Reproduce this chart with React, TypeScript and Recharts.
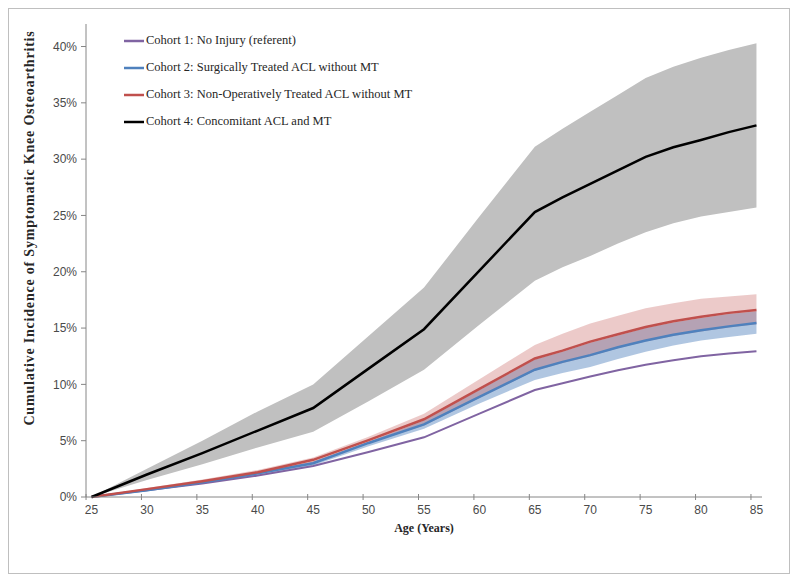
import { ComposedChart, Line, Area, XAxis, YAxis, Legend, Label } from "recharts";

const ages = [25, 30, 35, 40, 45, 50, 55, 60, 65, 67.5, 70, 72.5, 75, 77.5, 80, 82.5, 85];
const xTicks = [25, 30, 35, 40, 45, 50, 55, 60, 65, 70, 75, 80, 85];
const yTicks = [0, 5, 10, 15, 20, 25, 30, 35, 40];

// cumulative incidence, %
const cohort1 = [0, 0.6, 1.2, 1.9, 2.75, 4.0, 5.3, 7.4, 9.5, 10.1, 10.7, 11.25, 11.75, 12.15, 12.5, 12.75, 12.95];
const cohort2 = [0, 0.6, 1.3, 2.1, 3.0, 4.8, 6.45, 8.9, 11.3, 12.0, 12.6, 13.3, 13.9, 14.4, 14.8, 15.15, 15.45];
const cohort2Lo = [0, 0.55, 1.2, 1.95, 2.8, 4.5, 6.05, 8.3, 10.4, 11.0, 11.55, 12.25, 12.9, 13.45, 13.9, 14.2, 14.5];
const cohort2Hi = [0, 0.65, 1.35, 2.15, 3.15, 4.9, 6.8, 9.5, 12.2, 12.9, 13.7, 14.35, 15.0, 15.5, 15.9, 16.25, 16.5];
const cohort3 = [0, 0.7, 1.4, 2.2, 3.3, 5.05, 6.9, 9.6, 12.3, 13.0, 13.8, 14.45, 15.1, 15.6, 16.0, 16.35, 16.6];
const cohort3Lo = [0, 0.6, 1.3, 2.05, 3.0, 4.75, 6.35, 8.8, 11.2, 11.9, 12.5, 13.2, 13.8, 14.3, 14.7, 15.05, 15.35];
const cohort3Hi = [0, 0.8, 1.55, 2.4, 3.5, 5.35, 7.4, 10.45, 13.5, 14.5, 15.4, 16.1, 16.75, 17.2, 17.6, 17.8, 18.0];
const cohort4 = [0, 2.0, 3.9, 5.9, 7.9, 11.4, 14.9, 20.1, 25.3, 26.6, 27.8, 29.0, 30.2, 31.05, 31.7, 32.4, 33.0];
const cohort4Lo = [0, 1.5, 2.9, 4.4, 5.8, 8.5, 11.3, 15.3, 19.2, 20.4, 21.4, 22.5, 23.5, 24.3, 24.9, 25.3, 25.7];
const cohort4Hi = [0, 2.5, 5.0, 7.6, 10.0, 14.3, 18.6, 24.9, 31.1, 32.7, 34.2, 35.7, 37.2, 38.2, 39.0, 39.7, 40.3];

const cohorts = [
  { name: "Cohort 1: No Injury (referent)", color: "#8064a2" },
  { name: "Cohort 2: Surgically Treated ACL without MT", color: "#4f81bd" },
  { name: "Cohort 3: Non-Operatively Treated ACL without MT", color: "#c0504d" },
  { name: "Cohort 4: Concomitant ACL and MT", color: "#000000" },
];

const data = ages.map((age, i) => ({
  age,
  c1: cohort1[i],
  c2: cohort2[i],
  c2band: [cohort2Lo[i], cohort2Hi[i]],
  c3: cohort3[i],
  c3band: [cohort3Lo[i], cohort3Hi[i]],
  c4: cohort4[i],
  c4band: [cohort4Lo[i], cohort4Hi[i]],
}));

const axisColor = "#868686";
const tickFont = { fontFamily: "Liberation Sans, Arial, sans-serif", fontSize: 12, fill: "#4a4a4a" };
const serif = "Liberation Serif, Times New Roman, serif";

// Excel-style category axis: tick marks sit half a year left of the label
function XTick(props: any) {
  const { x, y, payload } = props;
  return (
    <g>
      <line x1={x - 5.5} x2={x - 5.5} y1={y - 3} y2={y + 3} stroke={axisColor} />
      <text x={x} y={y + 17} textAnchor="middle" {...tickFont}>
        {payload.value}
      </text>
    </g>
  );
}

function LegendBox() {
  return (
    <div style={{ fontFamily: serif, fontSize: 12.5, color: "#262626" }}>
      {cohorts.map((c) => (
        <div key={c.name} style={{ display: "flex", alignItems: "center", height: 27 }}>
          <svg width={20} height={4} style={{ marginRight: 2 }}>
            <line x1={0} x2={20} y1={2} y2={2} stroke={c.color} strokeWidth={2.5} />
          </svg>
          <span>{c.name}</span>
        </div>
      ))}
    </div>
  );
}

export default function App() {
  return (
    <div style={{ width: 782, height: 566, border: "1px solid #bfbfbf", boxSizing: "border-box", background: "#fff" }}>
      <ComposedChart width={780} height={564} data={data} margin={{ top: 15, right: 27, left: 17, bottom: 46 }}>
        <XAxis
          dataKey="age"
          type="number"
          domain={[24.5, 85.5]}
          ticks={xTicks}
          tickSize={0}
          tickMargin={0}
          tick={<XTick />}
          stroke={axisColor}
          height={30}
        >
          <Label
            content={(p: any) => (
              <text
                x={p.viewBox.x + p.viewBox.width / 2}
                y={p.viewBox.y + 35}
                textAnchor="middle"
                fontFamily={serif}
                fontWeight="bold"
                fontSize={12}
                fill="#262626"
              >
                Age (Years)
              </text>
            )}
          />
        </XAxis>
        <YAxis
          type="number"
          domain={[0, 42]}
          ticks={yTicks}
          tickFormatter={(v) => `${v}%`}
          tick={tickFont}
          tickSize={5}
          tickMargin={4}
          stroke={axisColor}
          width={60}
        >
          <Label
            content={() => (
              <text
                x={25}
                y={219}
                transform="rotate(-90 25 219)"
                textAnchor="middle"
                fontFamily={serif}
                fontWeight="bold"
                fontSize={14}
                letterSpacing={0.8}
                fill="#262626"
              >
                Cumulative Incidence of Symptomatic Knee Osteoarthritis
              </text>
            )}
          />
        </YAxis>
        <Legend
          layout="vertical"
          align="center"
          verticalAlign="middle"
          wrapperStyle={{ left: 115, top: 18, width: "auto" }}
          content={() => <LegendBox />}
        />
        <Area dataKey="c4band" stroke="none" fill="#c0c0c0" fillOpacity={1} isAnimationActive={false} />
        <Area dataKey="c2band" stroke="none" fill="#4f81bd" fillOpacity={0.45} isAnimationActive={false} />
        <Area dataKey="c3band" stroke="none" fill="#c0504d" fillOpacity={0.3} isAnimationActive={false} />
        <Line dataKey="c1" stroke="#8064a2" strokeWidth={2} dot={false} isAnimationActive={false} />
        <Line dataKey="c2" stroke="#4f81bd" strokeWidth={2.5} dot={false} isAnimationActive={false} />
        <Line dataKey="c3" stroke="#c0504d" strokeWidth={2.5} dot={false} isAnimationActive={false} />
        <Line dataKey="c4" stroke="#000000" strokeWidth={2.5} dot={false} isAnimationActive={false} />
      </ComposedChart>
    </div>
  );
}
